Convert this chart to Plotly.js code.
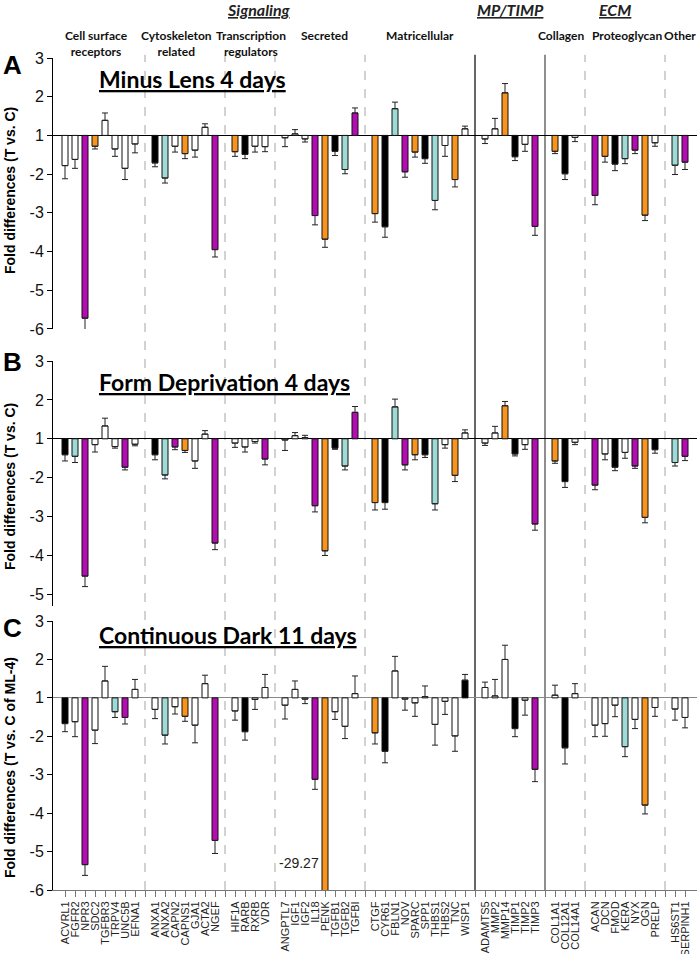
<!DOCTYPE html>
<html><head><meta charset="utf-8">
<script src="https://cdn.plot.ly/plotly-3.0.1.min.js"></script>
<style>body{margin:0;background:#fff}#chart{width:697px;height:954px}</style>
</head><body><div id="chart"></div>
<script>
// ---------- DATA ----------
const groupLabels = ["Cell surface<br>receptors","Cytoskeleton<br>related","Transcription<br>regulators","Secreted","Matricellular","Collagen","Proteoglycan","Other"];
const cellGenes = ["ACVRL1","FGFR2","NPR3","SDC2","TGFBR3","TRPV4","UNC5B","EFNA1"];
const cytoGenes = ["ANXA1","ANXA2","CAPN2","CAPNS1","GJA1","ACTA2","NGEF"];
const transGenes = ["HIF1A","RARB","RXRB","VDR"];
const secrGenes = ["ANGPTL7","IGF1","IGF2","IL18","PENK","TGFB1","TGFB2","TGFBI"];
const matriGenes = ["CTGF","CYR61","FBLN1","NOV","SPARC","SPP1","THBS1","THBS2","TNC","WISP1"];
const mpGenes = ["ADAMTS5","MMP2","MMP14","TIMP1","TIMP2","TIMP3"];
const colGenes = ["COL1A1","COL12A1","COL14A1"];
const pgGenes = ["ACAN","DCN","FMOD","KERA","NYX","OGN","PRELP"];
const otherGenes = ["HS6ST1","SERPINH1"];
const geneGroups = [cellGenes,cytoGenes,transGenes,secrGenes,matriGenes,mpGenes,colGenes,pgGenes,otherGenes];

const panelTitles = ["Minus Lens 4 days","Form Deprivation 4 days","Continuous Dark 11 days"];
const yTitles = ["Fold differences (T vs. C)","Fold differences (T vs. C)","Fold differences (T vs. C of ML-4)"];

// Fold differences (T vs. C), panel A: Minus Lens 4 days
const foldML = [-1.78,-1.62,-5.72,-1.28,1.39,-1.35,-1.85,-1.22,
  -1.71,-2.10,-1.28,-1.47,-1.38,1.21,-3.95,
  -1.42,-1.49,-1.28,-1.29,
  -1.06,1.04,-1.09,-3.07,-3.68,-1.41,-1.88,1.58,
  -3.02,-3.36,1.69,-1.94,-1.43,-1.60,-2.68,-1.26,-2.14,1.17,
  -1.09,1.17,2.10,-1.55,-1.23,-3.35,
  -1.41,-1.99,-1.05,
  -2.55,-1.54,-1.74,-1.60,-1.38,-3.06,-1.19,
  -1.77,-1.69];
const errML = [0.34,0.23,0.30,0.07,0.19,0.19,0.29,0.23,
  0.10,0.13,0.15,0.13,0.18,0.09,0.19,
  0.12,0.11,0.15,0.13,
  0.23,0.11,0.08,0.24,0.21,0.11,0.11,0.13,
  0.22,0.27,0.17,0.14,0.13,0.12,0.24,0.28,0.19,0.07,
  0.12,0.27,0.24,0.10,0.18,0.23,
  0.06,0.15,0.11,
  0.24,0.15,0.17,0.13,0.09,0.14,0.09,
  0.24,0.19];
const clsML = "wwmowwww"+"kcwowwm"+"okww"+"wwwmokcm"+"okcmokcwow"+"wwokwm"+"okw"+"mokcmow"+"cm";

// panel B: Form Deprivation 4 days
const foldFD = [-1.41,-1.45,-4.53,-1.15,1.33,-1.20,-1.73,-1.14,
  -1.41,-1.93,-1.21,-1.30,-1.57,1.12,-3.68,
  -1.11,-1.21,-1.07,-1.52,
  -1.03,1.08,1.03,-2.72,-3.88,-1.24,-1.70,1.68,
  -2.64,-2.64,1.82,-1.67,-1.41,-1.41,-2.67,-1.15,-1.94,1.15,
  -1.11,1.15,1.85,-1.39,-1.15,-3.19,
  -1.57,-2.10,-1.09,
  -2.19,-1.39,-1.73,-1.35,-1.70,-3.02,-1.28,
  -1.61,-1.45];
const errFD = [0.16,0.16,0.27,0.19,0.20,0.04,0.07,0.04,
  0.13,0.10,0.07,0.05,0.19,0.09,0.17,
  0.11,0.13,0.04,0.15,
  0.27,0.08,0.06,0.16,0.12,0.03,0.10,0.15,
  0.19,0.17,0.20,0.13,0.13,0.07,0.16,0.09,0.16,0.08,
  0.06,0.17,0.11,0.05,0.12,0.16,
  0.06,0.15,0.06,
  0.12,0.15,0.09,0.15,0.06,0.14,0.09,
  0.09,0.11];
const clsFD = "kcmwwwmw"+"kcmowwm"+"wwwm"+"wwwmokcm"+"okcmokcwow"+"wwokwm"+"okw"+"mwkwmok"+"cm";

// panel C: Continuous Dark 11 days (T vs. C of ML-4)
const foldCD = [-1.67,-1.62,-5.34,-1.84,1.44,-1.36,-1.51,1.22,
  -1.30,-1.97,-1.23,-1.48,-1.71,1.37,-4.71,
  -1.34,-1.88,-1.04,1.27,
  -1.19,1.22,-1.03,-3.12,-29.27,-1.36,-1.74,1.11,
  -1.91,-2.39,1.70,-1.03,-1.13,1.03,-1.69,-1.09,-1.99,1.46,
  1.27,1.05,2.00,-1.80,-1.06,-2.86,
  1.07,-2.30,1.11,
  -1.71,-1.67,-1.19,-2.27,-1.56,-3.79,-1.25,
  -1.29,-1.51];
const errCD = [0.21,0.39,0.28,0.35,0.38,0.15,0.17,0.26,
  0.24,0.23,0.19,0.13,0.46,0.22,0.34,
  0.24,0.22,0.26,0.34,
  0.36,0.22,0.12,0.26,0,0.20,0.32,0.46,
  0.29,0.30,0.38,0.29,0.35,0.28,0.54,0.34,0.40,0.15,
  0.14,0.43,0.37,0.21,0.39,0.32,
  0.26,0.42,0.26,
  0.30,0.33,0.30,0.26,0.24,0.23,0.23,
  0.29,0.27];
const clsCD = "kwmwwcmw"+"wcwowwm"+"wkww"+"wwwmowww"+"okwwwwwwwk"+"wwwkwm"+"wkw"+"wwwcwow"+"ww";

const yTickVals = [2,1,0,-1,-2,-3,-4,-5];
const yTickText = ["3","2","1","-2","-3","-4","-5","-6"];

// ---------- BUILD ----------
const palette = {w:"#ffffff",k:"#000000",c:"#9edbd6",o:"#f7941d",m:"#b30cb3"};
const genes = [], xs = [], seps = [];
let slot = 0;
geneGroups.forEach((g,gi)=>{
  g.forEach(n=>{genes.push(n); xs.push(slot); slot++;});
  if(gi < geneGroups.length-1){ seps.push(slot); slot++; }
});
const nSlots = slot;
const tr = v => v > 0 ? v - 1 : v + 1;   // fold axis: 1 and -1 share the baseline

function barTrace(vals, errs, cls, xa, ya){
  return {
    type:"bar", x: xs, y: vals.map(tr), xaxis:xa, yaxis:ya,
    marker:{color: cls.split("").map(c=>palette[c]), line:{color:"#111", width:1}},
    error_y:{type:"data", symmetric:false,
      array: vals.map((v,i)=> v>0 ? errs[i] : 0),
      arrayminus: vals.map((v,i)=> v>0 ? 0 : errs[i]),
      color:"#222", thickness:1, width:3},
    hoverinfo:"skip"
  };
}
const data = [
  barTrace(foldML, errML, clsML, "x", "y"),
  barTrace(foldFD, errFD, clsFD, "x2", "y2"),
  barTrace(foldCD, errCD, clsCD, "x3", "y3")
];

const tickVals = [], tickText = [];
for(let i=0;i<nSlots;i++){ tickVals.push(i); const k = xs.indexOf(i); tickText.push(k>=0 ? genes[k] : ""); }

const xr = [-1.2, nSlots + 0.2];
const xHidden = {range:xr, showline:false, showticklabels:false, ticks:"", zeroline:false, showgrid:false, fixedrange:true};
function yAx(dom, rng, nt, zc){
  return {domain:dom, range:rng, tickvals:yTickVals.slice(0,nt), ticktext:yTickText.slice(0,nt),
    showline:true, linecolor:"#000", linewidth:1, ticks:"outside", ticklen:5, tickcolor:"#000",
    tickfont:{family:"Arial", size:16, color:"#111"}, showgrid:false,
    zeroline:true, zerolinecolor:zc, zerolinewidth:1};
}

const shapes = seps.map((s,i)=>{
  const solid = (i===4 || i===5);
  return {type:"line", xref:"x", yref:"paper", x0:s, x1:s, y0:0, y1:1.004, layer:"below",
    line: solid ? {color: i===4 ? "#000" : "#444", width:1.2} : {color:"#c4c4c4", width:1.5, dash:"dash"}};
});

const ann = [];
const hdrFont = {family:"Lato, Arial", size:12, color:"#111"};
const hdrPos = [[96,44],[176,44],[251,44],[324,36],[420,36],[561,36],[627,36],[662,36]];
groupLabels.forEach((t,i)=>{
  const [px,py] = hdrPos[i];
  ann.push({xref:"paper", yref:"paper", x:(px-53)/644, y:(890-py)/832, text:"<b>"+t+"</b>",
    showarrow:false, xanchor: i===7 ? "left" : "center", yanchor:"middle", font:hdrFont});
});
[["Signaling",259],["MP/TIMP",510],["ECM",615]].forEach(([t,px])=>{
  ann.push({xref:"paper", yref:"paper", x:(px-53)/644, y:(890-10)/832, text:"<b><i><u>"+t+"</u></i></b>",
    showarrow:false, xanchor:"center", yanchor:"middle", font:{family:"Lato, Arial", size:16, color:"#222"}});
});
const titleY = [79, 382, 635];
const letterY = [65, 362, 628];
const yTitleY = [191, 487, 768];
["A","B","C"].forEach((L,i)=>{
  ann.push({xref:"paper", yref:"paper", x:(12-53)/644, y:(890-letterY[i])/832, text:"<b>"+L+"</b>",
    showarrow:false, xanchor:"center", yanchor:"middle", font:{family:"Arial", size:26, color:"#000"}});
  ann.push({xref:"paper", yref:"paper", x:(97-53)/644, y:(890-titleY[i])/832, text:"<b><u>"+panelTitles[i]+"</u></b>",
    showarrow:false, xanchor:"left", yanchor:"middle", font:{family:"Lato, Arial", size:23, color:"#000"}});
  ann.push({xref:"paper", yref:"paper", x:(10-53)/644, y:(890-yTitleY[i])/832, text:"<b>"+yTitles[i]+"</b>",
    textangle:-90, showarrow:false, xanchor:"center", yanchor:"middle", font:{family:"Arial", size:14, color:"#000"}});
});
const penkIdx = genes.indexOf("PENK");
ann.push({xref:"x3", yref:"y3", x:xs[penkIdx]-0.45, y:-4.3, text:String(foldCD[penkIdx]),
  showarrow:false, xanchor:"right", yanchor:"middle", font:{family:"Arial", size:14, color:"#222"}});

const layout = {
  width:697, height:954, margin:{l:53, r:0, t:58, b:64},
  paper_bgcolor:"#fff", plot_bgcolor:"rgba(0,0,0,0)", showlegend:false, bargap:0.4,
  xaxis: Object.assign({anchor:"y"}, xHidden),
  xaxis2: Object.assign({anchor:"y2"}, xHidden),
  xaxis3: {anchor:"y3", range:xr, showline:true, linecolor:"#777", linewidth:1, ticks:"outside", ticklen:6,
    tickcolor:"#777", tickvals:tickVals, ticktext:tickText, tickangle:-90,
    tickfont:{family:"Arial", size:11, color:"#222"}, showgrid:false, zeroline:false},
  yaxis: yAx([0.6743,1], [-5,2], 8, "#000"),
  yaxis2: yAx([0.3413,0.6358], [-4.3,2], 7, "#000"),
  yaxis3: yAx([0,0.3233], [-5,2], 8, "#888"),
  shapes: shapes, annotations: ann
};
Plotly.newPlot("chart", data, layout, {staticPlot:true, displayModeBar:false});
</script></body></html>
